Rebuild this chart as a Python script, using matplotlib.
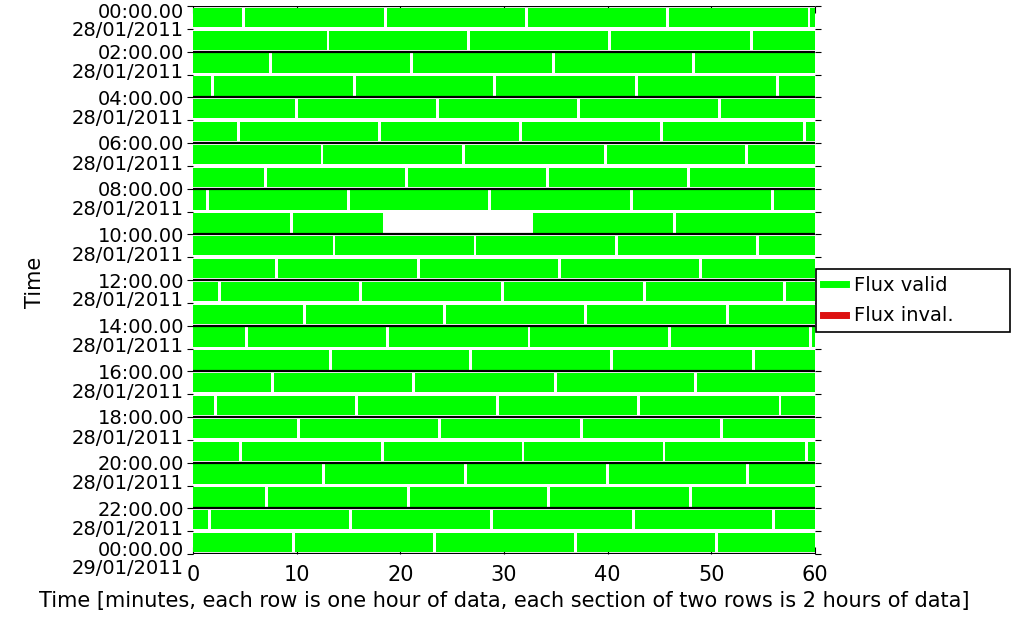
import matplotlib
matplotlib.use("Agg")
import matplotlib.pyplot as plt
from matplotlib.lines import Line2D

# breaks between data files, in minutes, one list per hour row (00h .. 23h)
breaks = [
    [4.86, 18.54, 32.18, 45.74, 59.42],
    [13.02, 26.58, 40.22, 53.90],
    [7.50, 21.10, 34.78, 48.26],
    [1.90, 15.58, 29.10, 42.75, 56.42],
    [9.95, 23.55, 37.23, 50.79],
    [4.39, 18.03, 31.63, 45.23, 58.95],
    [12.44, 26.11, 39.79, 53.35],
    [6.96, 20.60, 34.16, 47.80],
    [1.44, 14.96, 28.64, 42.32, 55.88],
    [9.52, 46.44],
    [13.60, 27.20, 40.88, 54.48],
    [8.08, 21.76, 35.32, 48.96],
    [2.53, 16.13, 29.88, 43.52, 57.08],
    [10.76, 24.29, 37.85, 51.57],
    [5.13, 18.73, 32.41, 45.93, 59.53],
    [13.25, 26.77, 40.41, 54.09],
    [7.66, 21.26, 34.94, 48.46],
    [2.14, 15.74, 29.34, 42.94, 56.62],
    [10.14, 23.78, 37.46, 50.98],
    [4.62, 18.26, 31.83, 45.43, 59.15],
    [12.63, 26.31, 39.99, 53.51],
    [7.11, 20.79, 34.27, 47.99],
    [1.59, 15.23, 28.83, 42.51, 56.04],
    [9.68, 23.32, 36.92, 50.48],
]
# missing data: row -> (start, end) in minutes
missing = {9: (18.34, 32.84)}

times = ['00:00.00', '02:00.00', '04:00.00', '06:00.00', '08:00.00', '10:00.00',
         '12:00.00', '14:00.00', '16:00.00', '18:00.00', '20:00.00', '22:00.00',
         '00:00.00']
dates = ['28/01/2011'] * 12 + ['29/01/2011']

GREEN = '#00ff00'
RED = '#dd1111'
GAP = 0.28
FS = 15
FS_Y = 14


def segments(row):
    edges = [0] + breaks[row] + [60]
    segs = []
    for a, b in zip(edges[:-1], edges[1:]):
        s = a + GAP / 2 if a > 0 else 0
        e = b - GAP / 2 if b < 60 else 60
        if row in missing:
            m0, m1 = missing[row]
            if s < m0 < e:
                segs.append((s, m0 - s))
                if m1 < e:
                    segs.append((m1, e - m1))
                continue
            if s < m1 < e:
                segs.append((m1, e - m1))
                continue
        segs.append((s, e - s))
    return segs


fig = plt.figure(figsize=(10.16, 6.3), dpi=100)
ax = fig.add_axes([193 / 1016, 1 - 554 / 630, 622 / 1016, 548 / 630])

for r in range(len(breaks)):
    ax.broken_barh(segments(r), (r + 0.08, 0.84), facecolors=GREEN, zorder=2)

for h in range(0, 25, 2):
    ax.axhline(h, color='black', lw=1.6, zorder=3)

ax.set_xlim(0, 60)
ax.set_ylim(24, 0)
for s in ['left', 'right', 'top', 'bottom']:
    ax.spines[s].set_visible(False)

ax.set_xticks(range(0, 61, 10))
ax.tick_params(axis='x', direction='in', length=5, top=True, labelsize=FS, pad=8)
ax.set_yticks(range(0, 25))
ax.tick_params(axis='y', direction='out', length=4, right=True, labelleft=False)

# time labels: first line at the boundary, date below
for i, (t, d) in enumerate(zip(times, dates)):
    dt, dd = 2, 21
    if i == 0:
        dt, dd = 7, 25
    elif i == len(times) - 1:
        dt, dd = -4, 14
    ax.annotate(t, xy=(0, 2 * i), xycoords=('axes fraction', 'data'),
                xytext=(-9, -dt), textcoords='offset pixels',
                ha='right', va='center', fontsize=FS_Y)
    ax.annotate(d, xy=(0, 2 * i), xycoords=('axes fraction', 'data'),
                xytext=(-9, -dd), textcoords='offset pixels',
                ha='right', va='center', fontsize=FS_Y)

fig.text(35 / 1016, 1 - 282 / 630, 'Time', rotation=90, ha='center', va='center', fontsize=FS)
ax.set_xlabel('Time [minutes, each row is one hour of data, each section of two rows is 2 hours of data]',
              fontsize=FS, labelpad=4)

handles = [Line2D([], [], color=GREEN, lw=5), Line2D([], [], color=RED, lw=5)]
leg = fig.legend(handles, ['Flux valid', 'Flux inval.'], loc='upper left',
                 bbox_to_anchor=(816 / 1016, 1 - 329 / 630, 194 / 1016, 60 / 630),
                 mode='expand', fontsize=14, frameon=True, fancybox=False,
                 edgecolor='black', framealpha=1, borderaxespad=0,
                 handlelength=1.2, handletextpad=0.4, labelspacing=0.6, borderpad=0.35)
leg.get_frame().set_linewidth(1.2)

fig.savefig('out.png', dpi=100)
